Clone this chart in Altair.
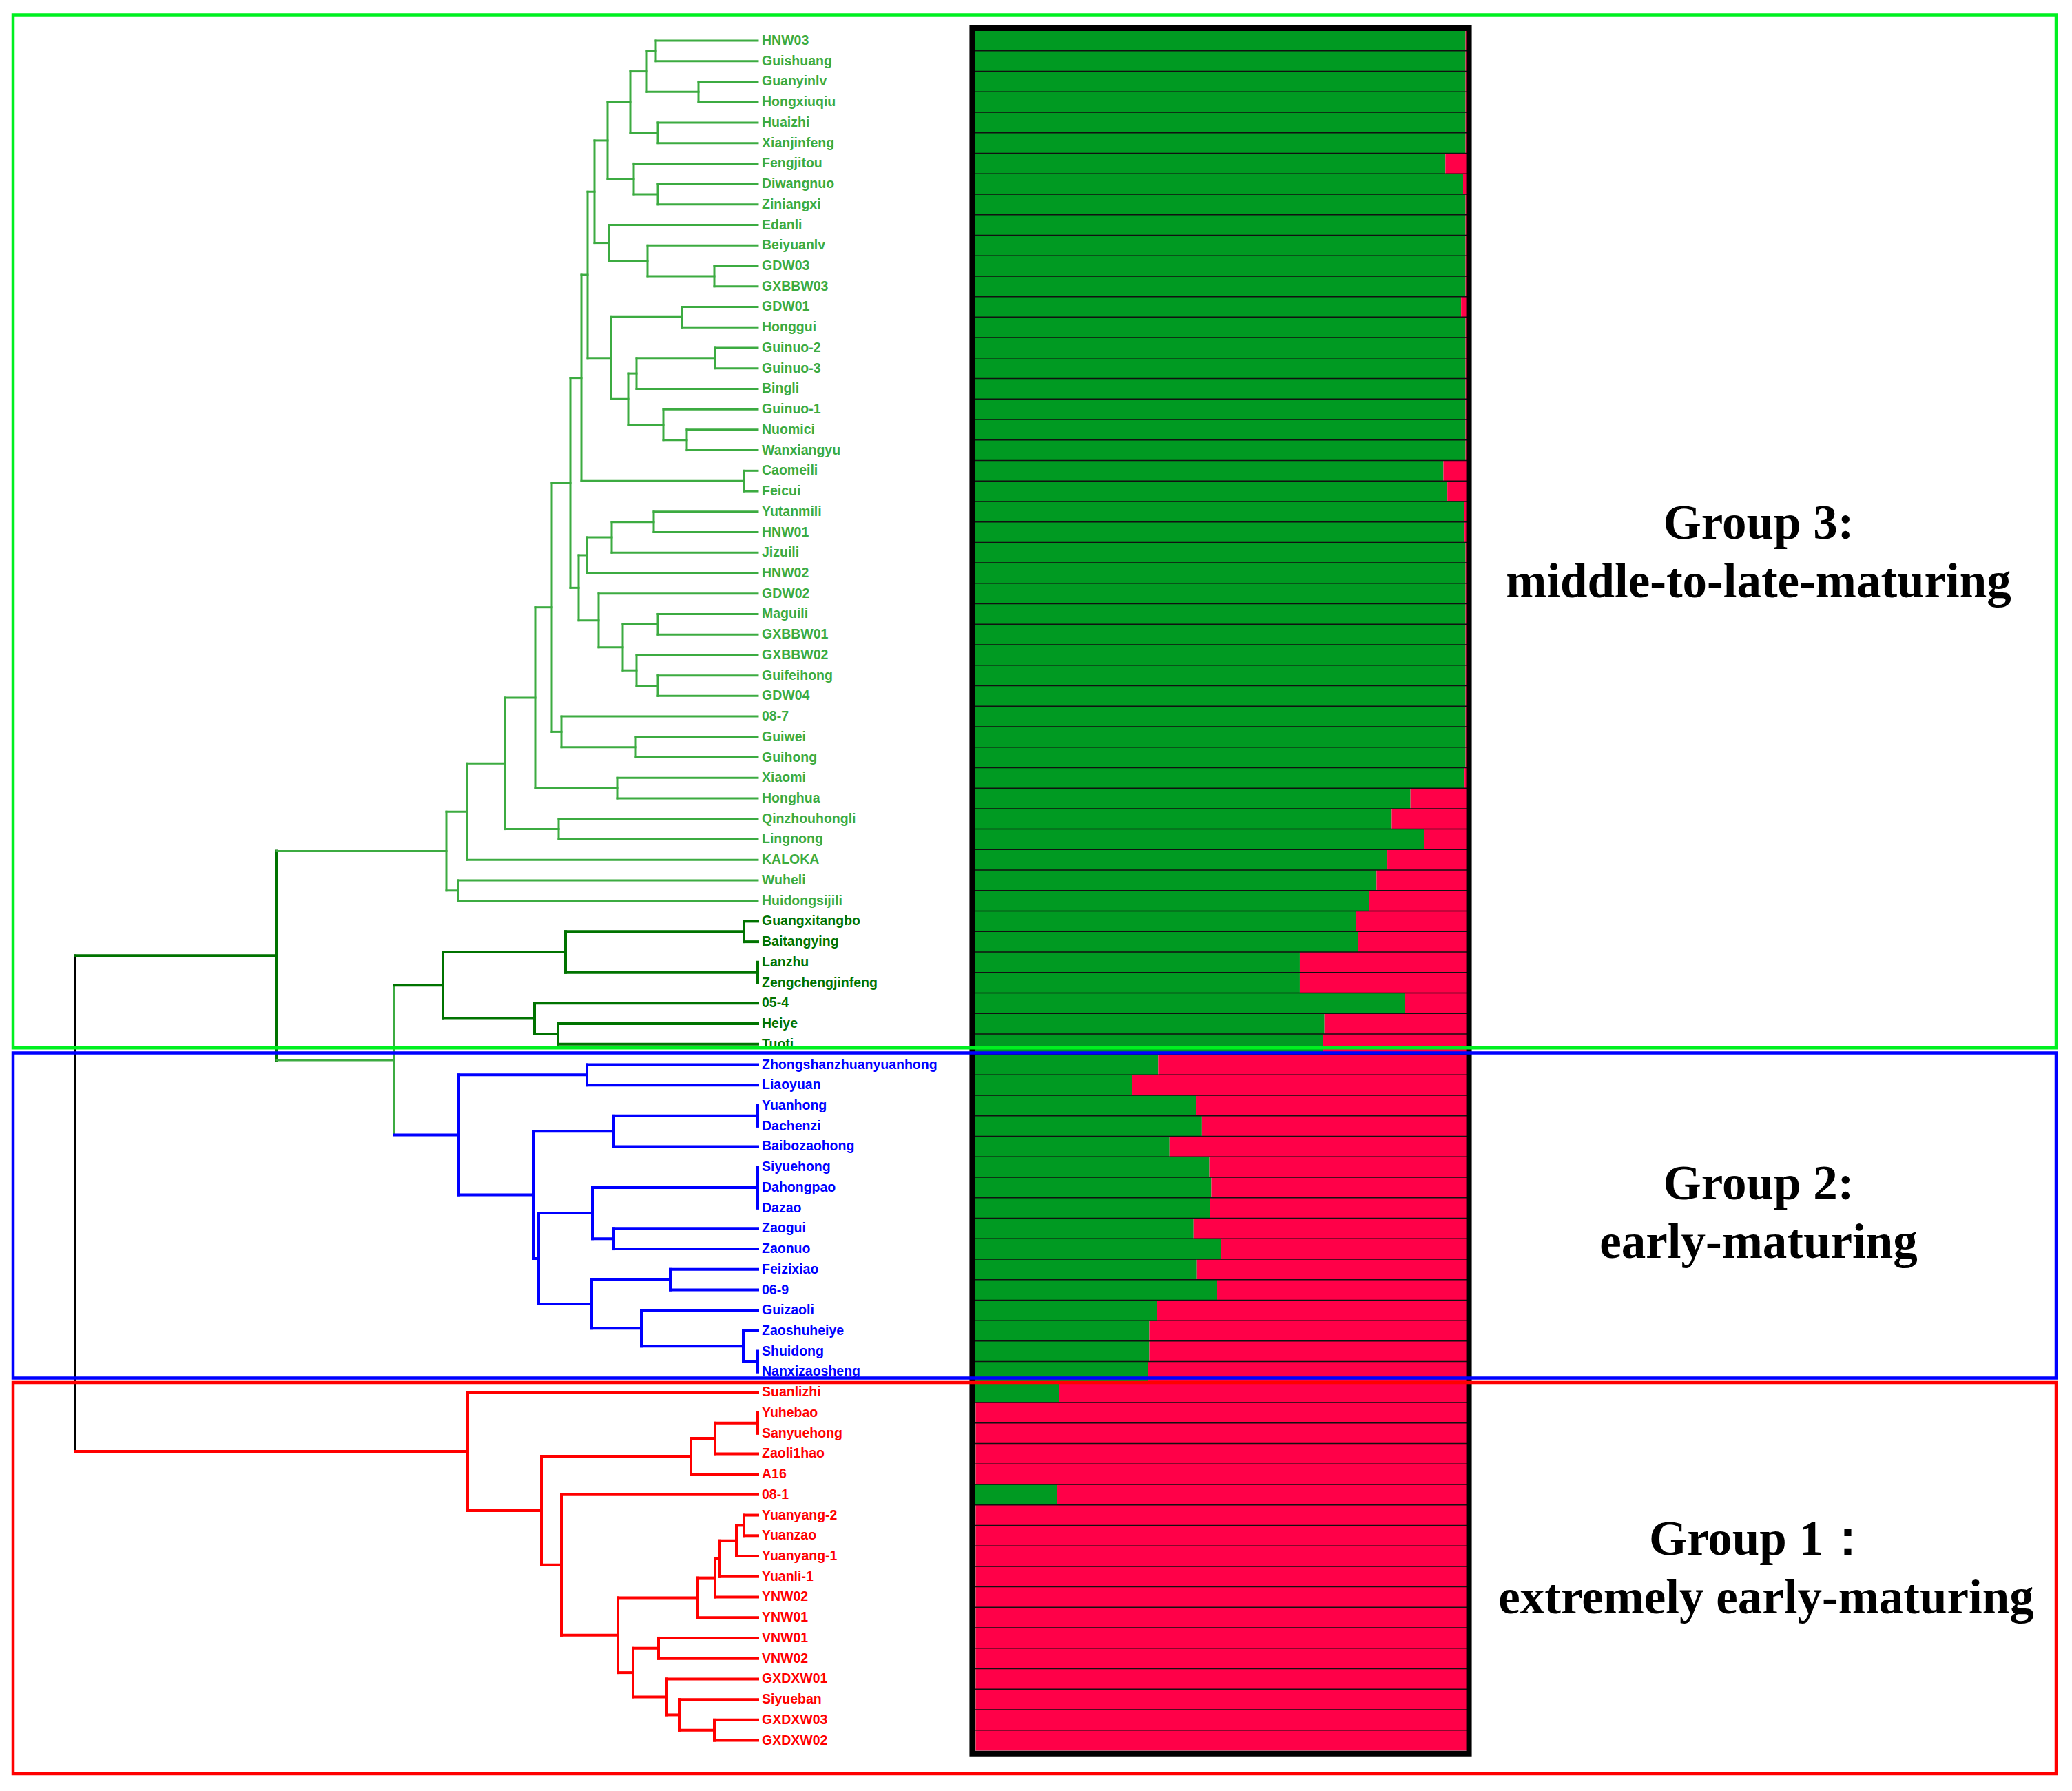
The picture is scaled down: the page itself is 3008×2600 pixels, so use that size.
import altair as alt
import pandas as pd

# ---------------- data ----------------
leaves = [
    "HNW03", "Guishuang", "Guanyinlv", "Hongxiuqiu", "Huaizhi", "Xianjinfeng",
    "Fengjitou", "Diwangnuo", "Ziniangxi", "Edanli", "Beiyuanlv", "GDW03",
    "GXBBW03", "GDW01", "Honggui", "Guinuo-2", "Guinuo-3", "Bingli", "Guinuo-1",
    "Nuomici", "Wanxiangyu", "Caomeili", "Feicui", "Yutanmili", "HNW01",
    "Jizuili", "HNW02", "GDW02", "Maguili", "GXBBW01", "GXBBW02", "Guifeihong",
    "GDW04", "08-7", "Guiwei", "Guihong", "Xiaomi", "Honghua", "Qinzhouhongli",
    "Lingnong", "KALOKA", "Wuheli", "Huidongsijili",
    "Guangxitangbo", "Baitangying", "Lanzhu", "Zengchengjinfeng", "05-4",
    "Heiye", "Tuoti",
    "Zhongshanzhuanyuanhong", "Liaoyuan", "Yuanhong", "Dachenzi",
    "Baibozaohong", "Siyuehong", "Dahongpao", "Dazao", "Zaogui", "Zaonuo",
    "Feizixiao", "06-9", "Guizaoli", "Zaoshuheiye", "Shuidong", "Nanxizaosheng",
    "Suanlizhi", "Yuhebao", "Sanyuehong", "Zaoli1hao", "A16", "08-1",
    "Yuanyang-2", "Yuanzao", "Yuanyang-1", "Yuanli-1", "YNW02", "YNW01",
    "VNW01", "VNW02", "GXDXW01", "Siyueban", "GXDXW03", "GXDXW02",
]

leaf_clade = (
    ["lg"] * 43 +
    ["dg"] * 7 +
    ["bl"] * 16 +
    ["rd"] * 18
)

leaf_group = (
    ["Group 3"] * 50 +
    ["Group 2"] * 16 +
    ["Group 1"] * 18
)

# membership coefficient of the green cluster (rest is red)
green_share = [
    0.998, 0.998, 0.998, 0.998, 0.998, 0.998, 0.957, 0.993, 0.998, 0.998,
    0.998, 0.998, 0.998, 0.989, 0.998, 0.998, 0.998, 0.998, 0.998, 0.998,
    0.998, 0.953, 0.961, 0.995, 0.996, 0.998, 0.998, 0.998, 0.998, 0.998,
    0.998, 0.998, 0.998, 0.998, 0.998, 0.998, 0.996, 0.886, 0.848, 0.914,
    0.839, 0.817, 0.802, 0.775, 0.779, 0.661, 0.661, 0.874, 0.711, 0.708,
    0.373, 0.320, 0.451, 0.462, 0.396, 0.477, 0.481, 0.479, 0.445, 0.501,
    0.452, 0.493, 0.370, 0.355, 0.355, 0.352,
    0.172, 0.002, 0.002, 0.002, 0.002, 0.168, 0.002, 0.002, 0.002, 0.002,
    0.002, 0.002, 0.002, 0.002, 0.002, 0.002, 0.002, 0.002,
]

# dendrogram internal nodes (children listed before parents), merge distances
node_names = [
    "A", "B", "C", "D", "E", "F", "G", "H", "I", "J", "K", "L", "M", "N", "O",
    "P", "Q", "R", "S", "T", "U", "V", "Y1", "Y2", "Y3", "Z1", "Z2", "Z3", "Z4",
    "Z5", "X", "W", "GG", "BB", "AA", "XH", "CC", "QL", "DD", "EE", "WH", "FF",
    "DG1", "DG2", "DG3", "DG4", "DG5", "DG",
    "B1", "B2", "B3", "B4", "B5", "B6", "B7", "B8", "B9", "B10", "B11", "B12",
    "B13", "BL",
    "R1", "R2", "R3", "R4", "R5", "R6", "R7", "R8", "R9", "R10", "R11", "R12",
    "R13", "R14", "R15", "R16", "RD",
    "N572", "G32", "ROOT",
]
node_children = [
    ["HNW03", "Guishuang"], ["Guanyinlv", "Hongxiuqiu"], ["A", "B"],
    ["Huaizhi", "Xianjinfeng"], ["C", "D"], ["Diwangnuo", "Ziniangxi"],
    ["Fengjitou", "F"], ["E", "G"], ["GDW03", "GXBBW03"], ["Beiyuanlv", "I"],
    ["Edanli", "J"], ["H", "K"], ["GDW01", "Honggui"], ["Guinuo-2", "Guinuo-3"],
    ["N", "Bingli"], ["Nuomici", "Wanxiangyu"], ["Guinuo-1", "P"], ["O", "Q"],
    ["M", "R"], ["L", "S"], ["Caomeili", "Feicui"], ["T", "U"],
    ["Yutanmili", "HNW01"], ["Y1", "Jizuili"], ["Y2", "HNW02"],
    ["Maguili", "GXBBW01"], ["Guifeihong", "GDW04"], ["GXBBW02", "Z2"],
    ["Z1", "Z3"], ["GDW02", "Z4"], ["Y3", "Z5"], ["V", "X"],
    ["Guiwei", "Guihong"], ["08-7", "GG"], ["W", "BB"], ["Xiaomi", "Honghua"],
    ["AA", "XH"], ["Qinzhouhongli", "Lingnong"], ["CC", "QL"], ["DD", "KALOKA"],
    ["Wuheli", "Huidongsijili"], ["EE", "WH"],
    ["Guangxitangbo", "Baitangying"], ["Lanzhu", "Zengchengjinfeng"],
    ["DG1", "DG2"], ["Heiye", "Tuoti"], ["05-4", "DG4"], ["DG3", "DG5"],
    ["Zhongshanzhuanyuanhong", "Liaoyuan"], ["Yuanhong", "Dachenzi"],
    ["B2", "Baibozaohong"], ["Siyuehong", "Dahongpao", "Dazao"],
    ["Zaogui", "Zaonuo"], ["B4", "B5"], ["Feizixiao", "06-9"],
    ["Shuidong", "Nanxizaosheng"], ["Zaoshuheiye", "B8"], ["Guizaoli", "B9"],
    ["B7", "B10"], ["B6", "B11"], ["B3", "B12"], ["B1", "B13"],
    ["Yuhebao", "Sanyuehong"], ["R1", "Zaoli1hao"], ["R2", "A16"],
    ["Yuanyang-2", "Yuanzao"], ["R4", "Yuanyang-1"], ["R5", "Yuanli-1"],
    ["R6", "YNW02"], ["R7", "YNW01"], ["VNW01", "VNW02"],
    ["GXDXW03", "GXDXW02"], ["Siyueban", "R10"], ["GXDXW01", "R11"],
    ["R9", "R12"], ["R8", "R13"], ["08-1", "R14"], ["R3", "R15"],
    ["Suanlizhi", "R16"],
    ["DG", "BL"], ["FF", "N572"], ["G32", "RD"],
]
node_heights = [
    14.8, 8.6, 16.1, 14.5, 18.5, 14.5, 18.0, 21.8, 6.3, 16.0, 21.6, 23.7, 11.0,
    6.2, 17.6, 10.3, 13.7, 18.8, 21.3, 24.7, 2.0, 25.6, 15.1, 21.2, 24.8, 14.5,
    14.5, 17.6, 19.6, 23.1, 26.0, 27.2, 17.7, 28.5, 29.9, 20.4, 32.3, 28.9, 36.7,
    42.2, 43.5, 45.2,
    2.0, 0.0, 27.9, 29.0, 32.4, 45.7,
    24.8, 0.0, 20.9, 0.0, 20.9, 24.0, 12.7, 0.0, 2.1, 16.9, 24.1, 31.8, 32.6,
    43.4,
    0.0, 6.2, 9.7, 2.0, 3.1, 5.5, 6.2, 8.7, 14.4, 6.3, 11.4, 13.2, 18.1, 20.3,
    28.5, 31.4, 42.1,
    52.8, 69.9, 99.1,
]
node_clade = (
    ["lg"] * 42 + ["dg"] * 6 + ["bl"] * 14 + ["rd"] * 17 + ["lg", "dg", "k"]
)

group_lines = [
    ("Group 3:", "middle-to-late-maturing"),
    ("Group 2:", "early-maturing"),
    ("Group 1\uff1a", "extremely early-maturing"),
]

# ---------------- styles ----------------
clade_color = {"lg": "#3cab41", "dg": "#007300", "bl": "#0000ff",
               "rd": "#ff0000", "k": "#000000"}
clade_width = {"lg": 3, "dg": 4, "bl": 4, "rd": 4, "k": 3.5}
K_GREEN = "#009a22"
K_RED = "#ff0048"
box_color = {"Group 3": "#00f020", "Group 2": "#0000ff", "Group 1": "#ff0000"}
box_pad = {"Group 3": (1.26, 0.18), "Group 2": (0.57, 0.30), "Group 1": (0.48, 1.63)}

# ---------------- build tables ----------------
ypos = {n: float(i) for i, n in enumerate(leaves)}
hgt = {n: 0.0 for n in leaves}
cl_of = dict(zip(leaves, leaf_clade))
segs = []
for name, kids, h, cl in zip(node_names, node_children, node_heights, node_clade):
    ys = [ypos[k] for k in kids]
    ypos[name] = (min(ys) + max(ys)) / 2
    hgt[name] = h
    cl_of[name] = cl
    segs.append(dict(x=h, x2=h, y=min(ys), y2=max(ys),
                     col=clade_color[cl], w=clade_width[cl]))
    for k in kids:
        ck = cl_of[k]
        segs.append(dict(x=h, x2=hgt[k], y=ypos[k], y2=ypos[k],
                         col=clade_color[ck], w=clade_width[ck]))
seg_df = pd.DataFrame(segs)

leaf_df = pd.DataFrame({
    "name": leaves,
    "row": list(range(len(leaves))),
    "zero": [0.0] * len(leaves),
    "col": [clade_color[c] for c in leaf_clade],
})

bar_rows = []
for i, g in enumerate(green_share):
    bar_rows.append(dict(x0=0.0, x1=g, top=i - 0.5, bot=i + 0.5, col=K_GREEN))
    bar_rows.append(dict(x0=g, x1=1.0, top=i - 0.5, bot=i + 0.5, col=K_RED))
bar_df = pd.DataFrame(bar_rows)

sep_df = pd.DataFrame({"y": [i + 0.5 for i in range(len(leaves) - 1)],
                       "a": 0.0, "b": 1.0})

box_rows = []
for gname in ["Group 3", "Group 2", "Group 1"]:
    rows = [i for i, g in enumerate(leaf_group) if g == gname]
    pt, pb = box_pad[gname]
    box_rows.append(dict(t=min(rows) - pt, u=max(rows) + pb, col=box_color[gname]))
box_df = pd.DataFrame(box_rows)

# ---------------- scales ----------------
dscale = alt.Scale(domain=[0, 100], range=[1092, 92], zero=False, nice=False)
yscale = alt.Scale(domain=[0, 83], range=[51, 2518.6], zero=False, nice=False)
bscale = alt.Scale(domain=[0, 1], range=[1407, 2121], zero=False, nice=False)

tree = alt.Chart(seg_df).mark_rule(strokeCap="square").encode(
    x=alt.X("x:Q", scale=dscale, axis=None),
    x2="x2:Q",
    y=alt.Y("y:Q", scale=yscale, axis=None),
    y2="y2:Q",
    color=alt.Color("col:N", scale=None),
    strokeWidth=alt.StrokeWidth("w:Q", scale=None),
)

labels = alt.Chart(leaf_df).mark_text(
    align="left", baseline="middle", dx=6, font="Liberation Sans",
    fontWeight="bold", fontSize=19.5,
).encode(
    x=alt.X("zero:Q", scale=dscale, axis=None),
    y=alt.Y("row:Q", scale=yscale, axis=None),
    text="name:N",
    color=alt.Color("col:N", scale=None),
)

bars = alt.Chart(bar_df).mark_bar(strokeWidth=0).encode(
    x=alt.X("x0:Q", scale=bscale, axis=None),
    x2="x1:Q",
    y=alt.Y("top:Q", scale=yscale, axis=None),
    y2="bot:Q",
    color=alt.Color("col:N", scale=None),
)

seps = alt.Chart(sep_df).mark_rule(color="#111111", strokeWidth=1.5).encode(
    x=alt.X("a:Q", scale=bscale, axis=None),
    x2="b:Q",
    y=alt.Y("y:Q", scale=yscale, axis=None),
)

frame = alt.Chart(pd.DataFrame({"a": [-0.005], "b": [1.005],
                                "t": [-0.605], "u": [83.64]})).mark_rect(
    fillOpacity=0, stroke="black", strokeWidth=8,
).encode(
    x=alt.X("a:Q", scale=bscale, axis=None),
    x2="b:Q",
    y=alt.Y("t:Q", scale=yscale, axis=None),
    y2="u:Q",
)

boxes = alt.Chart(box_df).mark_rect(fillOpacity=0, strokeWidth=4.5).encode(
    x=alt.value(11),
    x2=alt.value(2977),
    y=alt.Y("t:Q", scale=yscale, axis=None),
    y2="u:Q",
    stroke=alt.Stroke("col:N", scale=None),
)

# group annotation text (pixel placement of annotations)
ann_x = [2545, 2545, 2545, 2545, 2548, 2556]
ann_y = [753, 838, 1712, 1797, 2228, 2313]
ann_t = [t for pair in group_lines for t in pair]
ann_df = pd.DataFrame({"t": ann_t, "px": ann_x, "py": ann_y})
ann = alt.Chart(ann_df).mark_text(
    font="Liberation Serif", fontWeight="bold", fontSize=71,
    align="center", baseline="middle", color="black",
).encode(
    x=alt.X("px:Q", scale=None, axis=None),
    y=alt.Y("py:Q", scale=None, axis=None),
    text="t:N",
)

chart = alt.layer(bars, seps, frame, tree, labels, ann, boxes).resolve_scale(
    x="independent", y="independent"
).properties(
    width=2992, height=2584, padding=0, autosize="none", background="white"
).configure_view(strokeWidth=0)

chart.save("out.html", embed_options={"renderer": "svg", "actions": False})
